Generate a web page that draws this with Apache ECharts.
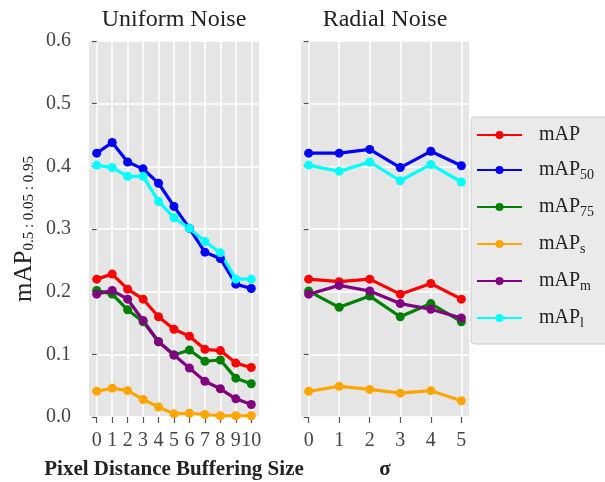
<!DOCTYPE html>
<html>
<head>
<meta charset="utf-8">
<script src="https://cdn.jsdelivr.net/npm/echarts@6/dist/echarts.min.js"></script>
<style>
    html, body { margin: 0; padding: 0; background: #fff; }
    #chart { width: 605px; height: 482px; }
</style>
</head>
<body>
<div id="chart"></div>
<script>
// x categories of the two panels
var bufferSizes = [0, 1, 2, 3, 4, 5, 6, 7, 8, 9, 10];
var sigmas = [0, 1, 2, 3, 4, 5];

var seriesNames = ['mAP', 'mAP50', 'mAP75', 'mAPs', 'mAPm', 'mAPl'];
var seriesSubs = ['', '50', '75', 's', 'm', 'l'];
var seriesColors = ['#ff0000', '#0000ff', '#008000', '#ffa500', '#800080', '#00ffff'];

// Uniform Noise (left)
var uniformMAP   = [0.220, 0.228, 0.204, 0.188, 0.160, 0.140, 0.129, 0.108, 0.106, 0.086, 0.079];
var uniformMAP50 = [0.421, 0.438, 0.407, 0.396, 0.373, 0.336, 0.301, 0.263, 0.253, 0.212, 0.205];
var uniformMAP75 = [0.202, 0.196, 0.171, 0.152, 0.120, 0.099, 0.107, 0.089, 0.091, 0.062, 0.053];
var uniformMAPs  = [0.041, 0.046, 0.042, 0.028, 0.016, 0.005, 0.006, 0.004, 0.002, 0.002, 0.002];
var uniformMAPm  = [0.196, 0.202, 0.188, 0.154, 0.120, 0.099, 0.078, 0.057, 0.045, 0.029, 0.020];
var uniformMAPl  = [0.402, 0.398, 0.384, 0.384, 0.344, 0.318, 0.301, 0.280, 0.262, 0.220, 0.220];

// Radial Noise (right)
var radialMAP   = [0.220, 0.216, 0.220, 0.196, 0.213, 0.188];
var radialMAP50 = [0.421, 0.421, 0.427, 0.398, 0.424, 0.401];
var radialMAP75 = [0.201, 0.175, 0.193, 0.160, 0.181, 0.152];
var radialMAPs  = [0.041, 0.049, 0.044, 0.038, 0.042, 0.026];
var radialMAPm  = [0.196, 0.210, 0.201, 0.181, 0.172, 0.158];
var radialMAPl  = [0.402, 0.392, 0.407, 0.377, 0.403, 0.375];

var uniformData = [uniformMAP, uniformMAP50, uniformMAP75, uniformMAPs, uniformMAPm, uniformMAPl];
var radialData = [radialMAP, radialMAP50, radialMAP75, radialMAPs, radialMAPm, radialMAPl];

var FONT = "'Liberation Serif', 'DejaVu Serif', serif";
var tickStyle = { color: '#555', width: 1.2 };

var myChart = echarts.init(document.getElementById('chart'));

function pairs(xs, ys) {
    var out = [];
    for (var i = 0; i < xs.length; i++) out.push([xs[i], ys[i]]);
    return out;
}

function makeX(idx, ticks, min, max, name) {
    return {
        type: 'value', gridIndex: idx, min: min, max: max,
        axisLine: { show: false },
        axisTick: { show: true, customValues: ticks, length: 6, lineStyle: tickStyle },
        axisLabel: { customValues: ticks, margin: 14, fontFamily: FONT, fontSize: 20, color: '#444' },
        splitLine: { show: true, lineStyle: { color: '#fff', width: 1.5 } },
        name: name, nameLocation: 'middle', nameGap: 42,
        nameTextStyle: { fontFamily: FONT, fontSize: 21, fontWeight: 'bold', color: '#222' }
    };
}

function makeY(idx, showLabel, off) {
    var y = {
        type: 'value', gridIndex: idx, min: 0, max: 0.6, interval: 0.1, offset: off,
        axisLine: { show: false },
        axisTick: { show: true, length: 5, lineStyle: tickStyle },
        axisLabel: {
            show: showLabel, margin: 14, fontFamily: FONT, fontSize: 20, color: '#444',
            formatter: function (v) { return v.toFixed(1); }
        },
        splitLine: { show: true, lineStyle: { color: '#fff', width: 1.5 } }
    };
    if (showLabel) {
        y.name = '{a|mAP}{b|0.5 : 0.05 : 0.95}';
        y.nameLocation = 'middle';
        y.nameRotate = 90;
        y.nameGap = 47;
        y.nameTextStyle = {
            rich: {
                a: { fontFamily: FONT, fontSize: 25, color: '#222', lineHeight: 28 },
                b: { fontFamily: FONT, fontSize: 15, color: '#222', lineHeight: 28, padding: [10, 0, 0, 0] }
            }
        };
    }
    return y;
}

var series = [];
for (var s = 0; s < seriesNames.length; s++) {
    var common = {
        type: 'line', name: seriesNames[s], symbol: 'circle', symbolSize: 9,
        color: seriesColors[s],
        lineStyle: { width: 3.2, color: seriesColors[s] },
        itemStyle: { color: seriesColors[s] },
        emphasis: { disabled: true }, animation: false
    };
    series.push(Object.assign({}, common, { xAxisIndex: 0, yAxisIndex: 0, data: pairs(bufferSizes, uniformData[s]) }));
    series.push(Object.assign({}, common, { xAxisIndex: 1, yAxisIndex: 1, data: pairs(sigmas, radialData[s]) }));
}

var option = {
    animation: false,
    title: [
        { text: 'Uniform Noise', left: 174, top: 8, padding: 0, textAlign: 'center',
          textStyle: { fontFamily: FONT, fontSize: 24, fontWeight: 'normal', color: '#222' } },
        { text: 'Radial Noise', left: 385, top: 8, padding: 0, textAlign: 'center',
          textStyle: { fontFamily: FONT, fontSize: 24, fontWeight: 'normal', color: '#222' } }
    ],
    grid: [
        { left: 89, top: 41, width: 170, height: 376, show: true, backgroundColor: '#e5e5e5', borderWidth: 0, outerBoundsMode: 'none' },
        { left: 301, top: 41, width: 168, height: 376, show: true, backgroundColor: '#e5e5e5', borderWidth: 0, outerBoundsMode: 'none' }
    ],
    xAxis: [
        makeX(0, bufferSizes, -0.5, 10.5, 'Pixel Distance Buffering Size'),
        makeX(1, sigmas, -0.25, 5.25, 'σ')
    ],
    yAxis: [makeY(0, true, 4), makeY(1, false, 3)],
    legend: {
        orient: 'vertical', left: 471, top: 117,
        itemWidth: 45, itemHeight: 10, itemGap: 13,
        padding: [8, 60, 14, 5],
        backgroundColor: '#eaeaea', borderColor: '#cccccc', borderWidth: 1, borderRadius: 4,
        data: seriesNames,
        formatter: function (name) {
            var i = seriesNames.indexOf(name);
            var txt = '{g|}{m|mAP}';
            if (seriesSubs[i]) txt += '{s|' + seriesSubs[i] + '}';
            return txt;
        },
        textStyle: {
            rich: {
                g: { width: 12, lineHeight: 24 },
                m: { fontFamily: FONT, fontSize: 20, color: '#222', lineHeight: 24 },
                s: { fontFamily: FONT, fontSize: 14, color: '#222', lineHeight: 24, padding: [10, 0, 0, 0] }
            }
        }
    },
    series: series
};

myChart.setOption(option);
</script>
</body>
</html>
